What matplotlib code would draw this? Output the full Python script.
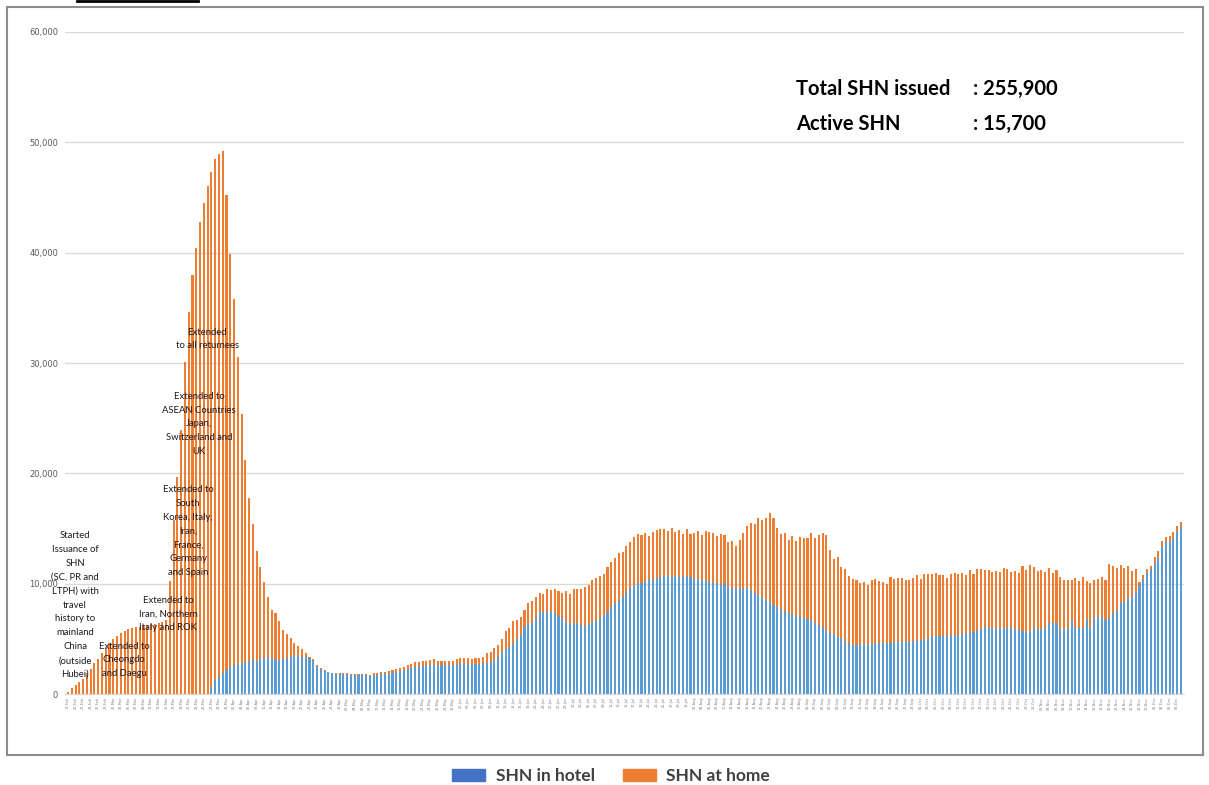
import numpy as np
import pandas as pd
import matplotlib
matplotlib.use('Agg')
import matplotlib.pyplot as plt
from matplotlib.patches import Patch, Rectangle
from matplotlib.lines import Line2D

# Donnees (SHN actifs par jour)
total_shn = [
    200, 500, 800, 1100, 1400, 1900, 2300, 2800, 3200, 3700,
    4200, 4600, 5000, 5300, 5500, 5700, 5860, 5950, 6050, 6100,
    6200, 6250, 6300, 6350, 6400, 6500, 6700, 10200, 15800, 19700,
    23900, 30100, 34600, 38000, 40400, 42800, 44500, 46000, 47300, 48500,
    48900, 49200, 45200, 39900, 35800, 30500, 25400, 21200, 17730, 15400,
    12960, 11540, 10180, 8820, 7610, 7310, 6620, 5800, 5400, 5100,
    4650, 4350, 4050, 3690, 3380, 3140, 2630, 2390, 2180, 2020,
    1930, 1870, 1870, 1870, 1870, 1810, 1810, 1810, 1810, 1810,
    1720, 1930, 1930, 2020, 2020, 2110, 2180, 2300, 2390, 2480,
    2630, 2720, 2870, 2930, 2990, 3020, 3080, 3140, 3020, 2990,
    2990, 2990, 2990, 3140, 3230, 3290, 3230, 3140, 3230, 3290,
    3380, 3690, 3840, 4140, 4440, 4950, 5740, 6010, 6650, 6700,
    7010, 7610, 8220, 8430, 8760, 9120, 9060, 9490, 9430, 9520,
    9370, 9180, 9300, 9060, 9490, 9550, 9490, 9670, 9880, 10330,
    10480, 10690, 10880, 11540, 11990, 12300, 12750, 12900, 13410, 13810,
    14260, 14470, 14410, 14620, 14350, 14650, 14860, 14950, 14920, 14800,
    15010, 14650, 14860, 14470, 14950, 14500, 14560, 14770, 14410, 14770,
    14680, 14620, 14320, 14470, 14380, 13810, 13900, 13410, 13960, 14560,
    15230, 15470, 15410, 15920, 15770, 15920, 16370, 15920, 15010, 14470,
    14620, 13960, 14320, 13900, 14260, 14110, 14110, 14560, 14170, 14410,
    14560, 14410, 13050, 12200, 12390, 11480, 11300, 10690, 10390, 10330,
    10030, 10180, 9880, 10330, 10420, 10270, 10180, 9970, 10630, 10390,
    10480, 10480, 10330, 10330, 10540, 10780, 10390, 10850, 10850, 10850,
    11000, 10780, 10780, 10480, 10880, 10940, 10880, 10940, 10780, 11240,
    10880, 11330, 11330, 11270, 11240, 11030, 11180, 11090, 11390, 11330,
    11030, 11180, 11000, 11600, 11240, 11690, 11540, 11180, 11240, 11090,
    11390, 11000, 11240, 10630, 10330, 10330, 10330, 10480, 10240, 10570,
    10240, 10090, 10330, 10390, 10570, 10330, 11780, 11600, 11390, 11690,
    11390, 11600, 11180, 11360, 10180, 10780, 11330, 11600, 12390, 12960,
    13900, 14260, 14350, 14650, 15230, 15620,
]

shn_hotel = [
    0, 0, 0, 0, 0, 0, 0, 0, 0, 0,
    0, 0, 0, 0, 0, 0, 0, 0, 0, 0,
    0, 0, 0, 0, 0, 0, 0, 0, 0, 0,
    0, 0, 0, 0, 0, 0, 0, 0, 660, 1270,
    1570, 1870, 2170, 2480, 2630, 2720, 2780, 2930, 2930, 3140,
    2930, 3230, 3290, 3290, 3290, 3170, 3020, 3140, 3230, 3380,
    3500, 3470, 3380, 3380, 3230, 3020, 2570, 2300, 2080, 1990,
    1900, 1840, 1800, 1800, 1790, 1760, 1760, 1750, 1750, 1740,
    1620, 1680, 1720, 1780, 1800, 1850, 1900, 2000, 2060, 2150,
    2240, 2320, 2420, 2480, 2540, 2600, 2640, 2660, 2650, 2620,
    2620, 2640, 2620, 2600, 2780, 2760, 2700, 2650, 2700, 2750,
    2780, 2850, 2930, 3100, 3380, 3700, 4050, 4300, 4530, 5000,
    5350, 6100, 6300, 6400, 6860, 7460, 7460, 7460, 7550, 7370,
    7100, 6860, 6560, 6340, 6400, 6400, 6250, 6160, 6340, 6560,
    6620, 6860, 7100, 7460, 7910, 8280, 8430, 8820, 9180, 9580,
    9790, 10030, 10030, 10180, 10390, 10330, 10480, 10630, 10690, 10690,
    10630, 10690, 10570, 10630, 10690, 10570, 10450, 10390, 10330, 10240,
    10240, 10090, 10030, 9880, 10030, 9730, 9580, 9520, 9580, 9490,
    9580, 9430, 9120, 8970, 8760, 8520, 8310, 8070, 7850, 7610,
    7520, 7370, 7250, 7100, 6950, 6860, 6770, 6710, 6400, 6250,
    6040, 5740, 5560, 5440, 5200, 5050, 4740, 4590, 4440, 4440,
    4440, 4500, 4440, 4530, 4590, 4590, 4590, 4590, 4650, 4740,
    4740, 4740, 4740, 4740, 4800, 4830, 4890, 4950, 4980, 5290,
    5290, 5290, 5290, 5290, 5320, 5350, 5350, 5440, 5500, 5500,
    5590, 5800, 5900, 6040, 6000, 5950, 5950, 5920, 5950, 5980,
    5950, 5920, 5800, 5710, 5650, 5590, 6100, 5800, 5860, 5950,
    6400, 6400, 6400, 5860, 5860, 5950, 6710, 5950, 5950, 5950,
    6770, 5950, 6920, 7010, 6980, 6710, 6920, 7310, 7610, 8220,
    8370, 8670, 8820, 9270, 9880, 10390, 10940, 11300, 11840, 12360,
    13350, 13810, 13810, 14110, 14710, 15100,
]

dates = pd.date_range('2020-02-18', periods=len(total_shn), freq='D')
date_labels = [d.strftime('%d-%b') for d in dates]

notes = [
    'Started\nIssuance of\nSHN\n(SC, PR and\nLTPH) with\ntravel\nhistory to\nmainland\nChina\n(outside\nHubei)',
    'Extended to\nCheongdo\nand Daegu',
    'Extended to\nIran, Northern\nItaly and ROK',
    'Extended to\nSouth\nKorea, Italy,\nIran,\nFrance,\nGermany\nand Spain',
    'Extended to\nASEAN Countries\nJapan,\nSwitzerland and\nUK',
    'Extended\nto all returnees',
]
note_pos = [(75, 605), (124, 660), (168, 614), (188, 531), (199, 424), (207, 339)]

W, H = 1209, 785
BLUE = '#5B9BD5'
ORANGE = '#ED7D31'

hotel = np.array(shn_hotel)
home = np.clip(np.array(total_shn) - hotel, 0, None)
x = np.arange(len(total_shn))

fig = plt.figure(figsize=(W / 100, H / 100), dpi=100)
ax = fig.add_axes([65 / W, 1 - 694 / H, (1184 - 65) / W, (694 - 32) / H])

ax.bar(x, hotel, width=0.55, color=BLUE, linewidth=0, zorder=2)
ax.bar(x, home, bottom=hotel, width=0.55, color=ORANGE, linewidth=0, zorder=2)

ax.set_xlim(-0.8, len(x) - 0.2)
ax.set_ylim(0, 60000)
ax.set_yticks(range(0, 60001, 10000))
ax.set_yticklabels(['{:,}'.format(v) for v in range(0, 60001, 10000)])
ax.yaxis.grid(True, color='#d9d9d9', lw=1)
ax.set_axisbelow(True)
for s in ['top', 'right', 'left']:
    ax.spines[s].set_visible(False)
ax.spines['bottom'].set_color('#d9d9d9')
ax.tick_params(axis='y', length=0, labelsize=6, labelcolor='#595959', pad=5)
ax.set_xticks(x[::2])
ax.set_xticklabels(date_labels[::2], rotation=90, fontsize=2.5, color='#7f7f7f')
ax.tick_params(axis='x', length=0, pad=2)

# annotations
for txt, (px, py) in zip(notes, note_pos):
    fig.text(px / W, 1 - py / H, txt, ha='center', va='center', multialignment='center',
             fontsize=6.8, family='Lato', color='#1a1a1a', linespacing=1.7, zorder=5)

big = dict(fontsize=14.5, family='Lato', weight='bold', color='black', va='center')
fig.text(796 / W, 1 - 89 / H, 'Total SHN issued', **big)
fig.text(973 / W, 1 - 89 / H, ': 255,900', **big)
fig.text(796 / W, 1 - 124 / H, 'Active SHN', **big)
fig.text(973 / W, 1 - 124 / H, ': 15,700', **big)

# legende
handles = [Patch(color='#4472C4', label='SHN in hotel'), Patch(color=ORANGE, label='SHN at home')]
fig.legend(handles=handles, loc='center', bbox_to_anchor=(611 / W, 1 - 776 / H), ncol=2,
           frameon=False, prop={'family': 'Lato', 'weight': 'bold', 'size': 12.5},
           labelcolor='#404040', handlelength=1.9, handleheight=0.7, handletextpad=0.6,
           columnspacing=1.6)

# cadre
fig.patches.append(Rectangle((7 / W, 1 - 755 / H), (1203 - 7) / W, (755 - 7) / H,
                             transform=fig.transFigure, fill=False, edgecolor='#8c8c8c', lw=1.5))
fig.lines.append(Line2D([77 / W, 198 / W], [1 - 1 / H, 1 - 1 / H], transform=fig.transFigure,
                        color='black', lw=2))

fig.savefig('out.png', dpi=100)
